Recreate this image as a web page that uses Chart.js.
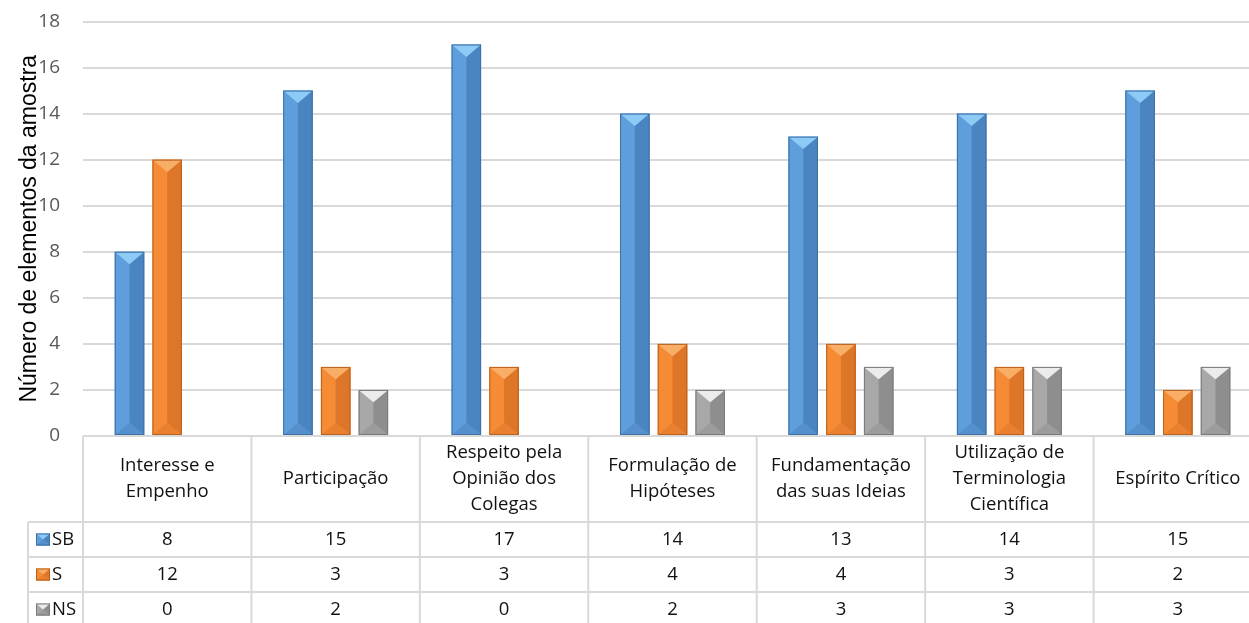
<!DOCTYPE html>
<html>
<head>
<meta charset="utf-8">
<script src="https://cdn.jsdelivr.net/npm/chart.js@4.4.0/dist/chart.umd.min.js"></script>
<style>
html,body{margin:0;padding:0;background:#fff;overflow:hidden}
#wrap{width:1249px;height:623px;overflow:hidden}
canvas{display:block}
</style>
</head>
<body>
<div id="wrap"><canvas id="grafico" width="1262" height="623"></canvas></div>
<script>
// dados
const categorias = [
  ["Interesse e","Empenho"],
  ["Participação"],
  ["Respeito pela","Opinião dos","Colegas"],
  ["Formulação de","Hipóteses"],
  ["Fundamentação","das suas Ideias"],
  ["Utilização de","Terminologia","Científica"],
  ["Espírito Crítico"]
]
const serieSB = [8,15,17,14,13,14,15]
const serieS = [12,3,3,4,4,3,2]
const serieNS = [0,2,0,2,3,3,3]
const nomesSeries = ["SB","S","NS"]
const eixoMax = 18
const eixoPasso = 2

// cores das faces (frente, direita, topo, base, contorno)
const cores = [
  {face:"#5e9edc", dir:"#4a85c2", topo:"#8dcaf6", base:"#5590cc", borda:"#3f70a3"},
  {face:"#f68b35", dir:"#dd7628", topo:"#f9ae68", base:"#e88030", borda:"#b8611f"},
  {face:"#a8a8a8", dir:"#8e8e8e", topo:"#ececec", base:"#9c9c9c", borda:"#7a7a7a"}
]

const fonteTabela = "18.5px 'Open Sans'"
const corLinha = "#d9d9d9"

function barraBisel(ctx, x0, x1, yt, yb, c){
  const xm = (x0+x1)/2
  const h = yb-yt
  if(h<=0) return
  const d = Math.min((x1-x0)*0.42, h/2)
  ctx.save()
  ctx.fillStyle = c.face
  ctx.fillRect(x0, yt, x1-x0, h)
  ctx.fillStyle = c.dir
  ctx.beginPath()
  ctx.moveTo(xm, yt+d); ctx.lineTo(x1, yt); ctx.lineTo(x1, yb); ctx.lineTo(xm, yb-d)
  ctx.closePath(); ctx.fill()
  ctx.fillStyle = c.base
  ctx.beginPath()
  ctx.moveTo(x0, yb); ctx.lineTo(x1, yb); ctx.lineTo(xm, yb-d)
  ctx.closePath(); ctx.fill()
  ctx.fillStyle = c.topo
  ctx.beginPath()
  ctx.moveTo(x0, yt); ctx.lineTo(x1, yt); ctx.lineTo(xm, yt+d)
  ctx.closePath(); ctx.fill()
  ctx.strokeStyle = c.borda
  ctx.lineWidth = 1
  ctx.strokeRect(x0+0.5, yt+0.5, x1-x0-1, h-1)
  ctx.restore()
}

const pluginBisel = {
  id:"bisel",
  afterDatasetsDraw(chart){
    const ctx = chart.ctx
    const area = chart.chartArea
    ctx.save()
    ctx.beginPath()
    ctx.rect(area.left, area.top-2, area.right-area.left, area.bottom-area.top+2)
    ctx.clip()
    chart.data.datasets.forEach((ds, i)=>{
      const meta = chart.getDatasetMeta(i)
      meta.data.forEach(el=>{
        const p = el.getProps(["x","y","base","width"], true)
        barraBisel(ctx, p.x-p.width/2, p.x+p.width/2, p.y, p.base, cores[i])
      })
    })
    ctx.restore()
  }
}

const pluginTabela = {
  id:"tabela",
  afterDraw(chart){
    const ctx = chart.ctx
    const area = chart.chartArea
    const xs = chart.scales.x
    const n = categorias.length
    const larg = xs.getPixelForValue(1) - xs.getPixelForValue(0)
    const topo = area.bottom
    const altCab = 86
    const altLin = 35
    const esq = area.left - 55
    const fundo = chart.height
    const dir = area.left + larg*n

    ctx.save()
    ctx.strokeStyle = corLinha
    ctx.lineWidth = 2
    ctx.beginPath()
    // linhas horizontais
    ctx.moveTo(area.left, topo); ctx.lineTo(dir, topo)
    for(let r=0;r<=3;r++){
      const y = topo+altCab+r*altLin
      ctx.moveTo(esq, y); ctx.lineTo(dir, y)
    }
    // linhas verticais
    for(let k=0;k<=n;k++){
      const x = area.left + k*larg
      ctx.moveTo(x, topo); ctx.lineTo(x, fundo)
    }
    ctx.moveTo(esq, topo+altCab); ctx.lineTo(esq, fundo)
    ctx.stroke()

    ctx.fillStyle = "#111"
    ctx.font = fonteTabela
    ctx.textAlign = "center"
    ctx.textBaseline = "middle"
    categorias.forEach((linhas, i)=>{
      const cx = xs.getPixelForValue(i)
      const y0 = topo + altCab/2 - (linhas.length-1)*13
      linhas.forEach((t, j)=> ctx.fillText(t, cx, y0 + j*26))
    })
    const series = [serieSB, serieS, serieNS]
    series.forEach((vals, r)=>{
      const cy = topo + altCab + r*altLin + altLin/2
      vals.forEach((v, i)=> ctx.fillText(String(v), xs.getPixelForValue(i), cy))
      // chave da legenda
      const kx = esq+8, ky = cy-6
      barraBisel(ctx, kx, kx+14, ky, ky+12, cores[r])
      ctx.textAlign = "left"
      ctx.fillText(nomesSeries[r], kx+16, cy)
      ctx.textAlign = "center"
    })
    ctx.restore()
  }
}

const ctx = document.getElementById("grafico")

const grafico = new Chart(ctx, {
  type:"bar",
  data:{
    labels:categorias,
    datasets:[
      {label:nomesSeries[0], data:serieSB, backgroundColor:cores[0].face},
      {label:nomesSeries[1], data:serieS, backgroundColor:cores[1].face},
      {label:nomesSeries[2], data:serieNS, backgroundColor:cores[2].face}
    ]
  },
  options:{
    responsive:false,
    animation:false,
    events:[],
    categoryPercentage:0.672,
    barPercentage:0.78,
    layout:{padding:{top:21.5, bottom:187, left:0, right:0}},
    plugins:{legend:{display:false}, tooltip:{enabled:false}},
    scales:{
      x:{display:false, offset:true},
      y:{
        min:0,
        max:eixoMax,
        afterFit(s){ s.width = 83; s.paddingTop = 0; s.paddingBottom = 0 },
        ticks:{stepSize:eixoPasso, padding:23, color:"#595959", font:{family:"'Open Sans'", size:19}},
        grid:{color:corLinha, lineWidth:2, drawTicks:false},
        border:{display:false},
        title:{display:true, text:"Número de elementos da amostra", color:"#000",
          font:{family:"'Liberation Sans'", size:23}, padding:{top:16}}
      }
    }
  },
  plugins:[pluginBisel, pluginTabela]
})
</script>
</body>
</html>
